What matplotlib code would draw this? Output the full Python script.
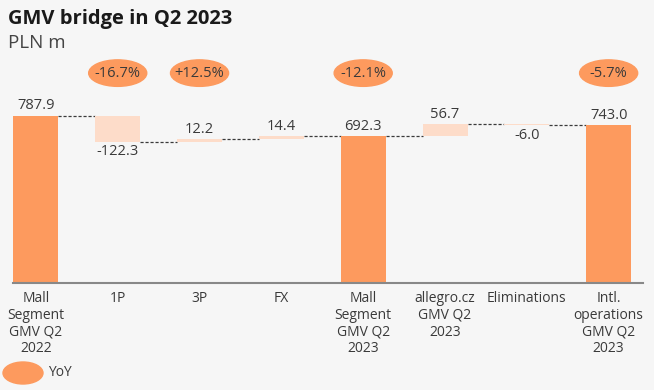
import matplotlib.pyplot as plt
from matplotlib.patches import Ellipse

# data
categories = ['Mall\nSegment\nGMV Q2\n2022', '1P', '3P', 'FX', 'Mall\nSegment\nGMV Q2\n2023',
              'allegro.cz\nGMV Q2\n2023', 'Eliminations', 'Intl.\noperations\nGMV Q2\n2023']
values = [787.9, -122.3, 12.2, 14.4, 692.3, 56.7, -6.0, 743.0]
is_total = [True, False, False, False, True, False, False, True]
yoy_pos = [1, 2, 4, 7]
yoy_text = ['-16.7%', '+12.5%', '-12.1%', '-5.7%']

bg = '#f6f6f6'
dark = '#fd9a5e'
light = '#fddcc9'
txt = '#3a3a3a'
plt.rcParams['font.family'] = ['Open Sans', 'DejaVu Sans']

fig = plt.figure(figsize=(6.54, 3.9), dpi=100, facecolor=bg)
ax = fig.add_axes([13 / 654, 1 - 283 / 390, 630 / 654, 233 / 390], facecolor=bg)

w = 0.55
level = 0
bottoms, tops = [], []
for i, v in enumerate(values):
    if is_total[i]:
        b, t = 0, v
        level = v
        col = dark
    else:
        b = level
        t = level + v
        level = t
        col = light
    ax.bar(i, t - b, bottom=b, width=w, color=col, zorder=2)
    bottoms.append(b)
    tops.append(t)
    if v >= 0:
        ax.text(i, max(b, t) + 12, f'{v:.1f}', ha='center', va='bottom', fontsize=10.5, color=txt)
    else:
        ax.text(i, min(b, t) - 12, f'{v:.1f}', ha='center', va='top', fontsize=10.5, color=txt)

# connectors
for i in range(len(values) - 1):
    lvl = tops[i]
    ax.plot([i + w / 2, i + 1 - w / 2], [lvl, lvl], ls=(0, (2.5, 1.5)), color=txt, lw=0.9, zorder=1)

# YoY bubbles
for p, t in zip(yoy_pos, yoy_text):
    ax.add_patch(Ellipse((p, 990), 0.71, 125, color=dark, clip_on=False))
    ax.text(p, 990, t, ha='center', va='center', fontsize=10.5, color=txt)

ax.set_xlim(-0.28, 7.42)
ax.set_ylim(0, 1099)
ax.set_xticks(range(len(categories)))
ax.set_xticklabels(categories, fontsize=10, color=txt, linespacing=1.15)
ax.tick_params(axis='x', length=0, pad=6)
ax.set_yticks([])
for s in ['top', 'right', 'left']:
    ax.spines[s].set_visible(False)
ax.spines['bottom'].set_color('#888888')
ax.spines['bottom'].set_linewidth(1.5)

fig.text(8 / 654, 1 - 19 / 390, 'GMV bridge in Q2 2023', fontsize=14.5, fontweight='bold',
         color='#1a1a1a', va='center')
fig.text(8 / 654, 1 - 43 / 390, 'PLN m', fontsize=13.5, color='#444444', va='center')

# legend
fig.patches.append(Ellipse((23 / 654, 1 - 373 / 390), 40 / 654, 22 / 390, color=dark,
                           transform=fig.transFigure))
fig.text(48 / 654, 1 - 373 / 390, 'YoY', fontsize=10, color=txt, va='center')

fig.savefig('out.png', dpi=100, facecolor=bg)
